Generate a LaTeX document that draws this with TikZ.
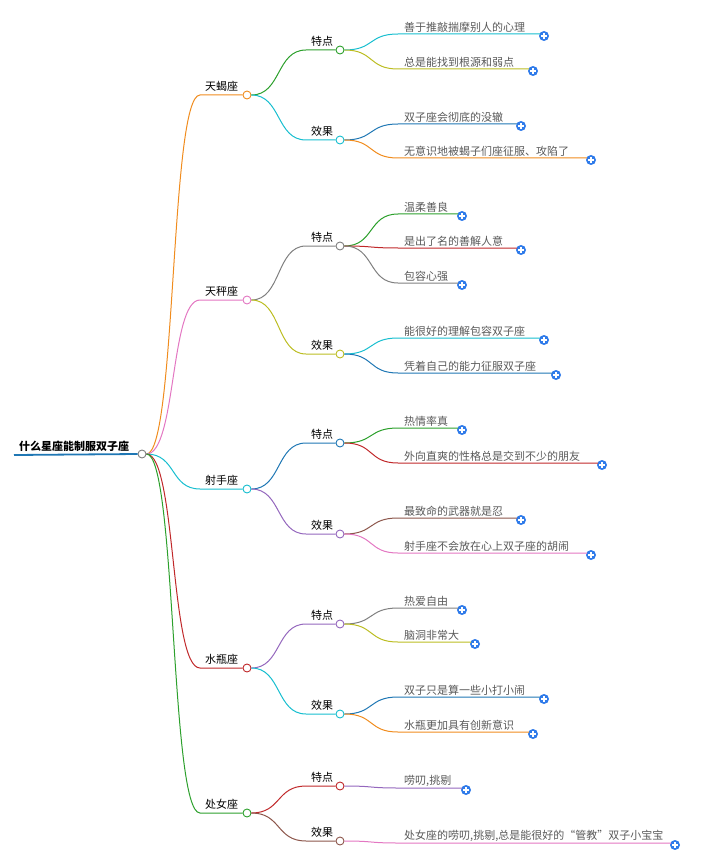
\documentclass[tikz,border=0pt]{standalone}
\usepackage{fontspec}
\newfontfamily\cjk{Noto Sans CJK SC}
\definecolor{cOr}{HTML}{F08C1E}
\definecolor{cPk}{HTML}{E377C2}
\definecolor{cCy}{HTML}{17BECF}
\definecolor{cRd}{HTML}{C0282A}
\definecolor{cGn}{HTML}{2CA02C}
\definecolor{cGy}{HTML}{7F7F7F}
\definecolor{cOl}{HTML}{BCBD22}
\definecolor{cBl}{HTML}{1F77B4}
\definecolor{cPu}{HTML}{9467BD}
\definecolor{cBr}{HTML}{8C564B}
\definecolor{plusblue}{HTML}{2F7BEA}
\tikzset{
 dot/.style={circle,draw=#1,fill=white,line width=0.9pt,minimum size=8pt,inner sep=0pt},
 lbl/.style={font=\cjk\fontsize{11}{13}\selectfont,text=black,anchor=south west,inner sep=1pt},
 leaftxt/.style={font=\cjk\fontsize{11}{13}\selectfont,text=black!65,anchor=south west,inner sep=1pt},
 plusn/.style={circle,fill=plusblue,minimum size=10pt,inner sep=0pt},
 br/.style={line width=1pt,draw=#1}
}
\newcommand{\mleaf}[6]{% name parent y xend color text
 \node[leaftxt] (#1t) at (403,#3) {#6};
 \coordinate (#1s) at (398,#3);
 \coordinate (#1e) at (#4,#3);
 \node[plusn] (#1p) at ([xshift=4pt,yshift=-2pt]#1e) {};
 \draw[white,line width=1.2pt] ([xshift=-2.6pt]#1p.center) -- ([xshift=2.6pt]#1p.center)
   ([yshift=-2.6pt]#1p.center) -- ([yshift=2.6pt]#1p.center);
 \draw[br=#5] (#2.east) .. controls +(30,0) and +(-30,0) .. (#1s) -- (#1e);
}
\newcommand{\mmid}[6]{% name parent y color text dotcolor
 \node[lbl] (#1t) at (310,#3-2) {#5};
 \node[dot=#6] (#1) at (340,#3) {};
 \coordinate (#1s) at (306,#3);
 \draw[br=#4] (#2.east) .. controls +(30,0) and +(-30,0) .. (#1s) -- (#1.west);
}
\newcommand{\mtop}[5]{% name y color text
 \node[lbl] (#1t) at (204,#2-2) {#4};
 \node[dot=#3] (#1) at (247,#2) {};
 \coordinate (#1s) at (200,#2);
 \draw[br=#3] (root.east) .. controls +(30,0) and +(-30,0) .. (#1s) -- (#1.west);
}
\begin{document}
\begin{tikzpicture}[x=1pt,y=-1pt]
\useasboundingbox (0,0) rectangle (702,850);
\node[lbl,font=\cjk\bfseries\fontsize{11}{13}\selectfont] (roott) at (18,453) {什么星座能制服双子座};
\node[dot=cGy] (root) at (142,454) {};
\draw[line width=1.8pt,cBl] (14,455) -- (root.west);

\mtop{a}{95}{cOr}{天蝎座}{}
\mtop{b}{300}{cPk}{天秤座}{}
\mtop{c}{489}{cCy}{射手座}{}
\mtop{d}{668}{cRd}{水瓶座}{}
\mtop{e}{813}{cGn}{处女座}{}

\mmid{a1}{a}{50}{cGn}{特点}{cGn}
\mmid{a2}{a}{140}{cCy}{效果}{cCy}
\mmid{b1}{b}{246}{cGy}{特点}{cGy}
\mmid{b2}{b}{354}{cOl}{效果}{cOl}
\mmid{c1}{c}{443}{cBl}{特点}{cBl}
\mmid{c2}{c}{534}{cPu}{效果}{cPu}
\mmid{d1}{d}{624}{cPu}{特点}{cPu}
\mmid{d2}{d}{714}{cCy}{效果}{cCy}
\mmid{e1}{e}{786}{cRd}{特点}{cRd}
\mmid{e2}{e}{841}{cBr}{效果}{cBr}

\mleaf{l1}{a1}{34}{540}{cCy}{善于推敲揣摩别人的心理}
\mleaf{l2}{a1}{69}{529}{cOl}{总是能找到根源和弱点}
\mleaf{l3}{a2}{124}{517}{cBl}{双子座会彻底的没辙}
\mleaf{l4}{a2}{158}{587}{cOr}{无意识地被蝎子们座征服、攻陷了}
\mleaf{l5}{b1}{214}{458}{cGn}{温柔善良}
\mleaf{l6}{b1}{248}{517}{cRd}{是出了名的善解人意}
\mleaf{l7}{b1}{283}{458}{cGy}{包容心强}
\mleaf{l8}{b2}{338}{540}{cCy}{能很好的理解包容双子座}
\mleaf{l9}{b2}{373}{552}{cBl}{凭着自己的能力征服双子座}
\mleaf{l10}{c1}{428}{458}{cGn}{热情率真}
\mleaf{l11}{c1}{463}{598}{cRd}{外向直爽的性格总是交到不少的朋友}
\mleaf{l12}{c2}{518}{517}{cBr}{最致命的武器就是忍}
\mleaf{l13}{c2}{553}{587}{cPk}{射手座不会放在心上双子座的胡闹}
\mleaf{l14}{d1}{608}{458}{cGy}{热爱自由}
\mleaf{l15}{d1}{642}{471}{cOl}{脑洞非常大}
\mleaf{l16}{d2}{697}{540}{cBl}{双子只是算一些小打小闹}
\mleaf{l17}{d2}{732}{529}{cOr}{水瓶更加具有创新意识}
\mleaf{l18}{e1}{788}{462}{cPu}{唠叨,挑剔}
\mleaf{l19}{e2}{843}{671}{cPk}{处女座的唠叨,挑剔,总是能很好的“管教”双子小宝宝}
\end{tikzpicture}
\end{document}
